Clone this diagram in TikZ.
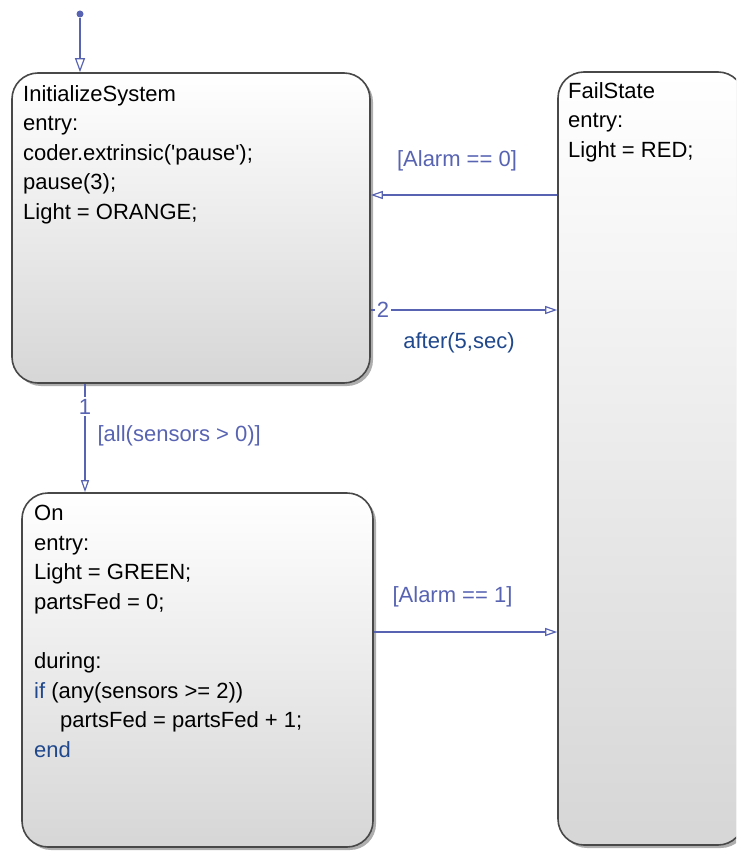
\documentclass[tikz,border=0pt]{standalone}
\usepackage{fontspec}
\setmainfont{Liberation Sans}
\usetikzlibrary{arrows.meta,shadows,positioning,calc}
\definecolor{transblue}{RGB}{88,100,178}
\definecolor{keyblue}{RGB}{32,72,140}
\definecolor{stateborder}{RGB}{72,72,72}
\tikzset{
  state/.style={draw=stateborder, line width=1.6pt, rounded corners=26pt, top color=white, bottom color=black!16,
    drop shadow={shadow xshift=3pt, shadow yshift=-3pt, fill=black!70, opacity=0.45}, inner sep=0pt},
  statetext/.style={anchor=north west, align=left, inner sep=0pt, font=\fontsize{22}{29.6}\selectfont},
  trans/.style={draw=transblue, line width=1.2pt, -{Triangle[open, length=12pt, width=8pt]}},
  guard/.style={text=transblue, inner sep=1pt, font=\fontsize{22}{26}\selectfont},
  keyw/.style={guard, text=keyblue},
  order/.style={guard, fill=white, inner sep=2pt}
}
\begin{document}
\begin{tikzpicture}[x=1pt,y=-1pt]
  \useasboundingbox (0,0) rectangle (736,851);
  \clip (0,0) rectangle (736,851);
  % states
  \node[state, minimum width=358pt, minimum height=310pt] (init) at (191,228) {};
  \node[state, minimum width=186pt, minimum height=773pt] (fail) at (651,458.5) {};
  \node[state, minimum width=351pt, minimum height=354pt] (on) at (197.5,670) {};
  \node[statetext] (initText) at (23,85) {InitializeSystem\\entry:\\coder.extrinsic(\textquotesingle pause\textquotesingle);\\pause(3);\\Light = ORANGE;};
  \node[statetext] (failText) at (568,82) {FailState\\entry:\\Light = RED;};
  \node[statetext] (onText) at (34,505) {On\\entry:\\Light = GREEN;\\partsFed = 0;\\[29.6pt]during:\\{\color{keyblue}if} (any(sensors >= 2))\\\hspace*{26pt}partsFed = partsFed + 1;\\{\color{keyblue}end}};
  % default transition
  \node[circle, fill=transblue, inner sep=0pt, minimum size=7pt] (start) at (80,14) {};
  \draw[trans, -{Triangle[open, length=14pt, width=10pt]}] (start) -- (start |- init.north);
  % transitions
  \draw[trans] (init.south -| 85,0) -- node[order, pos=0.21] {1}
    node[guard, pos=0.48, anchor=west, xshift=11pt] {[all(sensors > 0)]} (on.north -| 85,0);
  \draw[trans] (fail.west |- 0,195) -- node[guard, midway, above=22pt, xshift=-7pt] {[Alarm == 0]} (init.east |- 0,195);
  \draw[trans] (init.east |- 0,310) -- node[order, pos=0.065] {2}
    node[keyw, midway, below=21pt, xshift=-5pt] {after(5,sec)} (fail.west |- 0,310);
  \draw[trans] (on.east |- 0,632) -- node[guard, midway, above=23pt, xshift=-13pt] {[Alarm == 1]} (fail.west |- 0,632);
\end{tikzpicture}
\end{document}
